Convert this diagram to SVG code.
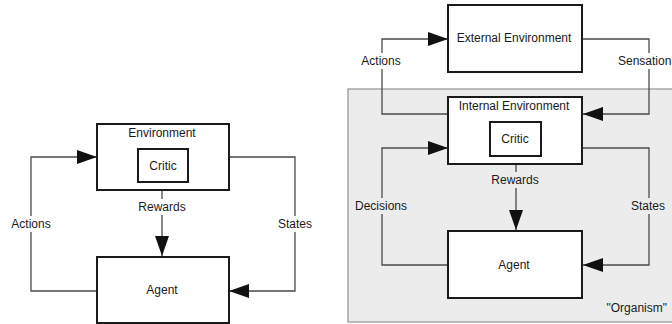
<svg xmlns="http://www.w3.org/2000/svg" width="672" height="324" viewBox="0 0 672 324">
<style>
.box{fill:#fff;stroke:#1a1a1a;stroke-width:2}
.ibox{fill:#fff;stroke:#1a1a1a;stroke-width:2}
.ln{fill:none;stroke:#4a4a4a;stroke-width:1.3}
.t{font-family:"Liberation Sans",Arial,sans-serif;font-size:12px;fill:#1a1a1a;text-anchor:middle}
</style>
<defs>
<marker id="ah" markerUnits="userSpaceOnUse" markerWidth="20" markerHeight="14" viewBox="0 0 20 14" refX="20" refY="7" orient="auto">
<path d="M0,0 L20,7 L0,14 Z" fill="#111"/>
</marker>
</defs>
<rect id="organism" x="348" y="89" width="330" height="233" fill="#ececec" stroke="#9a9a9a" stroke-width="1.3"/>
<g id="connectors">
<path class="ln" d="M97,291 H31 V157 H97" marker-end="url(#ah)"/>
<path class="ln" d="M229,157 H295 V291 H229" marker-end="url(#ah)"/>
<path class="ln" d="M162,183 V256" marker-end="url(#ah)"/>
<path class="ln" d="M448,114 H382 V39 H448" marker-end="url(#ah)"/>
<path class="ln" d="M582,39 H649 V114 H583" marker-end="url(#ah)"/>
<path class="ln" d="M448,265 H382 V148 H448" marker-end="url(#ah)"/>
<path class="ln" d="M582,148 H649 V265 H583" marker-end="url(#ah)"/>
<path class="ln" d="M516,156 V230" marker-end="url(#ah)"/>
</g>
<g id="labels">
<rect x="10" y="216" width="44" height="16" fill="#fff"/>
<text class="t" x="31" y="228">Actions</text>
<rect x="272" y="216" width="46" height="16" fill="#fff"/>
<text class="t" x="295" y="228">States</text>
<rect x="134" y="199" width="56" height="16" fill="#fff"/>
<text class="t" x="162" y="211">Rewards</text>
<rect x="358" y="53" width="48" height="16" fill="#fff"/>
<text class="t" x="381" y="65">Actions</text>
<rect x="614" y="53" width="58" height="16" fill="#fff"/>
<text class="t" x="618" y="65" style="text-anchor:start">Sensation</text>
<rect x="352" y="198" width="60" height="16" fill="#ececec"/>
<text class="t" x="381" y="210">Decisions</text>
<rect x="626" y="198" width="44" height="16" fill="#ececec"/>
<text class="t" x="648" y="210">States</text>
<rect x="488" y="172" width="56" height="16" fill="#ececec"/>
<text class="t" x="515" y="184">Rewards</text>
<text class="t" x="667" y="312" style="text-anchor:end">"Organism"</text>
</g>
<g id="environment">
<rect class="box" x="97" y="124" width="132" height="66"/>
<text class="t" x="162" y="137">Environment</text>
</g>
<g id="critic-left">
<rect class="ibox" x="138" y="149" width="50" height="33"/>
<text class="t" x="163" y="170">Critic</text>
</g>
<g id="agent-left">
<rect class="box" x="97" y="257" width="132" height="66"/>
<text class="t" x="162" y="294">Agent</text>
</g>
<g id="external-environment">
<rect class="box" x="448" y="5" width="134" height="67"/>
<text class="t" x="514" y="42">External Environment</text>
</g>
<g id="internal-environment">
<rect class="box" x="448" y="97" width="134" height="67"/>
<text class="t" x="514" y="110">Internal Environment</text>
</g>
<g id="critic-right">
<rect class="ibox" x="490" y="122" width="51" height="34"/>
<text class="t" x="515" y="143">Critic</text>
</g>
<g id="agent-right">
<rect class="box" x="448" y="231" width="134" height="67"/>
<text class="t" x="514" y="269">Agent</text>
</g>
</svg>
